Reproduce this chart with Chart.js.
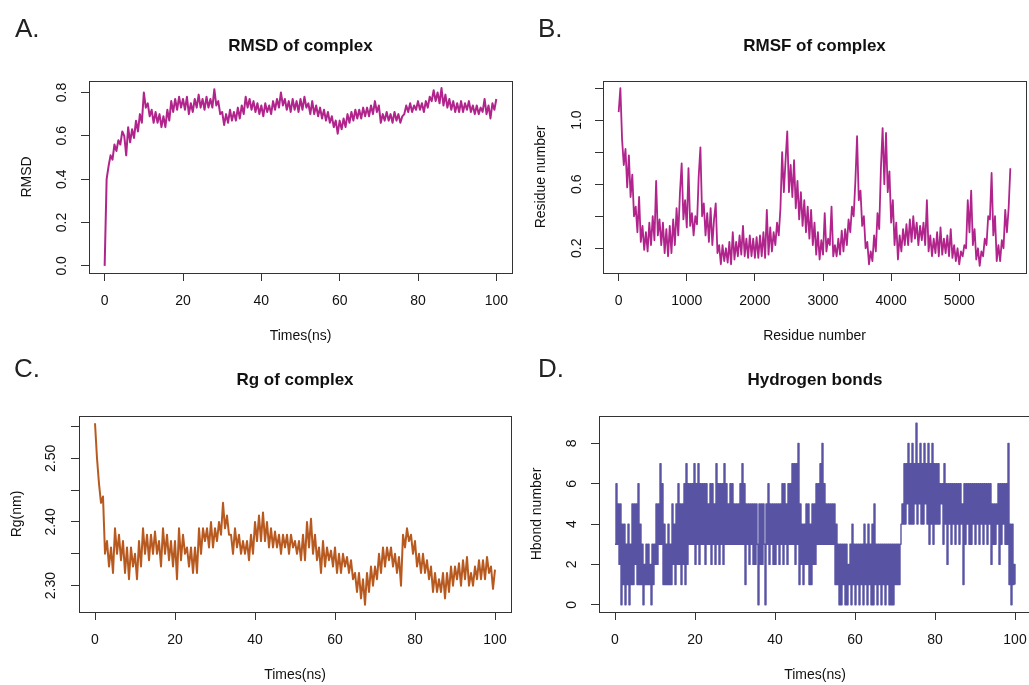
<!DOCTYPE html>
<html><head><meta charset="utf-8">
<script src="https://cdn.jsdelivr.net/npm/chart.js@4.4.1/dist/chart.umd.min.js"></script>
<style>
html,body{margin:0;padding:0;background:#fff;overflow:hidden;width:1029px;height:685px;}
canvas{position:absolute;left:0;top:0;}
.lab{position:absolute;font:26px "Liberation Sans",Arial,sans-serif;line-height:26px;color:#222;}
.ttl{position:absolute;font:bold 17px "Liberation Sans",Arial,sans-serif;line-height:17px;text-align:center;color:#111;}
</style></head><body>
<canvas id="cA" width="1040" height="685"></canvas>
<canvas id="cB" width="1040" height="685"></canvas>
<canvas id="cC" width="1040" height="685"></canvas>
<canvas id="cD" width="1040" height="685"></canvas>
<div class="lab" style="left:15px;top:15px">A.</div>
<div class="lab" style="left:538px;top:15px">B.</div>
<div class="lab" style="left:14px;top:355px">C.</div>
<div class="lab" style="left:538px;top:355px">D.</div>
<div class="ttl" style="left:89px;width:423px;top:37px">RMSD of complex</div>
<div class="ttl" style="left:603px;width:423px;top:37px">RMSF of complex</div>
<div class="ttl" style="left:79px;width:432px;top:371px">Rg of complex</div>
<div class="ttl" style="left:599px;width:432px;top:371px">Hydrogen bonds</div>
<script>
// RMSD, one value every 0.5 ns (0..100)
const rmsd = [0,0.40,0.46,0.51,0.49,0.56,0.53,0.58,0.56,0.62,
  0.60,0.51,0.64,0.57,0.63,0.59,0.67,0.62,0.70,0.66,
  0.80,0.73,0.75,0.69,0.72,0.66,0.71,0.66,0.70,0.64,
  0.69,0.64,0.72,0.67,0.76,0.71,0.77,0.72,0.78,0.73,
  0.77,0.72,0.78,0.70,0.75,0.71,0.77,0.73,0.79,0.73,
  0.77,0.72,0.78,0.73,0.77,0.73,0.815,0.74,0.76,0.70,
  0.71,0.65,0.70,0.66,0.72,0.67,0.71,0.67,0.73,0.68,
  0.74,0.70,0.78,0.73,0.77,0.72,0.76,0.71,0.75,0.70,
  0.74,0.69,0.75,0.71,0.74,0.70,0.76,0.72,0.77,0.73,
  0.80,0.74,0.77,0.72,0.76,0.71,0.77,0.72,0.76,0.71,
  0.77,0.72,0.78,0.73,0.75,0.70,0.76,0.70,0.74,0.69,
  0.73,0.68,0.72,0.67,0.71,0.66,0.69,0.64,0.67,0.61,
  0.67,0.63,0.68,0.64,0.70,0.66,0.71,0.67,0.72,0.68,
  0.72,0.68,0.73,0.69,0.73,0.69,0.74,0.70,0.76,0.71,
  0.74,0.66,0.70,0.67,0.71,0.67,0.70,0.66,0.71,0.67,
  0.70,0.66,0.69,0.70,0.74,0.71,0.75,0.71,0.74,0.72,
  0.76,0.72,0.75,0.71,0.76,0.73,0.78,0.76,0.81,0.76,
  0.80,0.75,0.82,0.74,0.79,0.73,0.77,0.72,0.76,0.71,
  0.75,0.71,0.76,0.71,0.75,0.72,0.76,0.71,0.74,0.70,
  0.74,0.70,0.73,0.71,0.77,0.70,0.74,0.68,0.75,0.72,
  0.77];
// RMSF, one value every 25 residues (0..5750)
const rmsf = [1.05,1.20,0.88,0.72,0.82,0.58,0.78,0.52,0.66,0.40,0.46,0.30,0.52,0.24,0.34,0.19,0.30,0.18,0.36,0.22,
  0.40,0.25,0.62,0.28,0.38,0.22,0.36,0.17,0.32,0.15,0.34,0.17,0.38,0.22,0.45,0.28,0.55,0.73,0.38,0.50,
  0.33,0.70,0.34,0.42,0.28,0.40,0.35,0.65,0.83,0.40,0.48,0.28,0.42,0.24,0.45,0.22,0.38,0.48,0.17,0.22,
  0.10,0.22,0.12,0.20,0.11,0.24,0.10,0.30,0.13,0.24,0.15,0.28,0.16,0.34,0.15,0.26,0.14,0.28,0.15,0.26,
  0.14,0.27,0.14,0.28,0.15,0.30,0.14,0.44,0.16,0.33,0.18,0.30,0.22,0.36,0.28,0.45,0.80,0.55,0.75,0.93,
  0.55,0.72,0.52,0.75,0.45,0.62,0.38,0.55,0.34,0.50,0.30,0.46,0.26,0.44,0.22,0.36,0.16,0.30,0.13,0.25,
  0.16,0.42,0.18,0.26,0.22,0.46,0.15,0.22,0.15,0.26,0.16,0.31,0.18,0.32,0.22,0.38,0.30,0.46,0.40,0.62,
  0.90,0.50,0.56,0.34,0.40,0.20,0.24,0.10,0.18,0.12,0.28,0.18,0.42,0.32,0.70,0.95,0.60,0.92,0.55,0.68,
  0.36,0.50,0.22,0.36,0.13,0.28,0.18,0.32,0.22,0.35,0.22,0.38,0.24,0.40,0.26,0.36,0.22,0.34,0.25,0.36,
  0.22,0.50,0.18,0.28,0.15,0.26,0.17,0.30,0.15,0.33,0.16,0.26,0.17,0.28,0.15,0.32,0.14,0.22,0.12,0.20,
  0.10,0.18,0.15,0.22,0.20,0.50,0.30,0.56,0.22,0.32,0.13,0.20,0.09,0.18,0.15,0.26,0.22,0.40,0.38,0.67,
  0.28,0.40,0.12,0.22,0.12,0.25,0.20,0.44,0.30,0.45,0.70];
// Rg, one value every 0.5 ns
const rg = [2.555,2.50,2.46,2.43,2.44,2.35,2.37,2.33,2.36,2.32,
  2.39,2.35,2.38,2.34,2.37,2.32,2.36,2.31,2.36,2.33,
  2.35,2.31,2.37,2.33,2.39,2.35,2.38,2.34,2.38,2.35,
  2.385,2.35,2.37,2.33,2.39,2.35,2.38,2.34,2.37,2.33,
  2.37,2.31,2.39,2.34,2.38,2.35,2.36,2.33,2.36,2.32,
  2.36,2.32,2.39,2.35,2.39,2.37,2.39,2.36,2.40,2.36,
  2.39,2.37,2.40,2.38,2.43,2.39,2.41,2.38,2.38,2.35,
  2.39,2.36,2.38,2.35,2.37,2.35,2.37,2.34,2.38,2.35,
  2.40,2.37,2.41,2.37,2.415,2.37,2.40,2.36,2.39,2.36,
  2.385,2.36,2.38,2.35,2.38,2.36,2.38,2.35,2.38,2.36,
  2.37,2.35,2.37,2.34,2.38,2.34,2.40,2.36,2.405,2.35,
  2.38,2.34,2.36,2.32,2.37,2.33,2.36,2.34,2.355,2.33,
  2.36,2.32,2.35,2.32,2.35,2.33,2.345,2.32,2.34,2.31,
  2.32,2.29,2.32,2.28,2.31,2.27,2.32,2.29,2.33,2.30,
  2.33,2.31,2.35,2.32,2.36,2.33,2.36,2.34,2.36,2.33,
  2.35,2.32,2.345,2.30,2.38,2.36,2.39,2.37,2.38,2.35,
  2.37,2.33,2.35,2.32,2.35,2.32,2.34,2.31,2.33,2.29,
  2.32,2.29,2.31,2.29,2.32,2.28,2.32,2.29,2.33,2.30,
  2.33,2.31,2.335,2.30,2.34,2.31,2.345,2.30,2.32,2.30,
  2.33,2.31,2.34,2.31,2.34,2.31,2.345,2.32,2.33,2.295,
  2.325];
// hydrogen bond count, one value every 0.25 ns
const hbond = [3,6,3,5,2,5,0,4,1,4,0,3,1,4,0,3,1,5,1,5,
  2,5,1,6,1,4,1,3,0,2,1,3,1,3,1,2,0,3,1,3,
  2,5,2,5,3,7,3,6,1,4,1,3,1,4,1,3,1,5,2,4,
  1,5,2,6,2,5,1,5,2,6,1,7,2,6,3,6,3,6,3,7,
  2,6,3,7,2,6,3,6,3,6,2,6,3,5,3,6,2,6,3,5,
  2,7,3,6,2,6,3,6,2,7,3,6,3,5,3,6,3,6,3,5,
  3,5,3,5,3,6,3,7,3,6,1,5,3,5,2,5,3,5,2,5,
  2,5,3,0,5,2,5,2,5,3,0,5,3,6,2,5,3,5,2,5,
  2,5,3,5,2,5,3,6,2,6,3,5,2,6,3,6,3,7,3,7,
  2,7,3,8,1,5,2,4,1,4,2,5,2,5,1,4,1,5,2,5,
  2,6,3,6,3,7,3,8,3,6,3,5,3,5,3,5,3,5,3,5,
  1,4,1,3,0,3,0,3,1,3,0,3,0,2,1,3,0,4,1,3,
  0,3,1,3,0,3,1,3,0,4,1,3,0,4,1,3,0,4,0,5,
  1,3,0,3,1,3,0,3,1,3,0,3,1,3,0,3,0,3,0,3,
  1,3,1,3,1,3,4,5,4,7,4,7,5,8,4,7,4,8,4,7,
  5,9,4,7,5,8,4,7,4,8,5,7,4,8,3,7,4,8,3,7,
  4,7,4,7,4,6,5,6,3,7,4,6,2,6,4,6,3,6,4,6,
  3,6,4,6,3,6,4,5,1,6,3,6,4,6,3,6,3,6,4,6,
  3,6,4,6,3,6,4,6,3,6,4,6,3,6,4,6,2,5,3,5,
  3,5,4,6,2,6,3,6,4,6,3,6,3,8,1,4,0,4,1,2,
  1];

const timeTicks = [0,20,40,60,80,100];
const resTicks  = [0,1000,2000,3000,4000,5000];
const rmsdTicks = [0,0.2,0.4,0.6,0.8];
const rmsfTicks = [0.2,0.4,0.6,0.8,1.0,1.2];
const rmsfShown = [0.2,0.6,1.0];
const rgTicks   = [2.30,2.35,2.40,2.45,2.50,2.55];
const rgShown   = [2.30,2.40,2.50];
const hbTicks   = [0,2,4,6,8];

const FONT = {family:'"Liberation Sans", Arial, sans-serif', size:14};
const INK = '#111';

// box round the plot region, like R's box()
const frame = {id:'frame', afterDatasetsDraw(c){
  const a=c.chartArea, x=c.ctx;
  x.save(); x.strokeStyle='#333'; x.lineWidth=1;
  x.strokeRect(Math.round(a.left)+.5, Math.round(a.top)+.5, Math.round(a.right-a.left), Math.round(a.bottom-a.top));
  x.restore();
}};

function panel(id, o) {
  const grid = {drawOnChartArea:false, drawTicks:true, tickLength:8, color:'#333', lineWidth:1};
  return new Chart(document.getElementById(id), {
    type:'line',
    data:{datasets:[{data:o.vals.map((v,i)=>({x:i*o.step, y:v})), borderColor:o.color, borderWidth:o.lw,
      pointRadius:0, tension:0, stepped:!!o.stepped, borderJoinStyle:'round'}]},
    options:{
      responsive:false, animation:false, events:[], parsing:false,
      layout:{padding:o.pad},
      plugins:{legend:{display:false}, tooltip:{enabled:false}},
      scales:{
        x:{type:'linear', min:o.xr[0], max:o.xr[1], grid, border:{display:false},
          afterBuildTicks:s=>{s.ticks=o.xt.map(v=>({value:v}))},
          afterFit:s=>{s.height=72},
          ticks:{font:FONT, color:INK, padding:11.6, maxRotation:0, autoSkip:false, callback:v=>String(v)},
          title:{display:true, text:o.xl, font:FONT, color:INK, padding:{top:0, bottom:0.6}}},
        y:{type:'linear', min:o.yr[0], max:o.yr[1], grid, border:{display:false},
          afterBuildTicks:s=>{s.ticks=o.yt.map(v=>({value:v}))},
          afterFit:s=>{s.width=75},
          ticks:{font:FONT, color:INK, padding:o.yp, minRotation:90, maxRotation:90, crossAlign:'center', autoSkip:false,
            callback:v=>o.ys.includes(v) ? v.toFixed(o.dec) : ''},
          title:{display:true, text:o.yl, font:FONT, color:INK, padding:{top:5.1, bottom:0}}}
      }
    },
    plugins:[frame]
  });
}

panel('cA', {vals:rmsd, step:0.5, color:'#B0248C', lw:2, pad:{left:14,top:81,right:528,bottom:340},
  xr:[-4,104], yr:[-0.0328,0.8528], xt:timeTicks, yt:rmsdTicks, ys:rmsdTicks, dec:1, yp:8.8,
  xl:'Times(ns)', yl:'RMSD'});
panel('cB', {vals:rmsf, step:25, color:'#B0248C', lw:1.8, pad:{left:528,top:81,right:14,bottom:340},
  xr:[-230,5980], yr:[0.0456,1.2444], xt:resTicks, yt:rmsfTicks, ys:rmsfShown, dec:1, yp:7.8,
  xl:'Residue number', yl:'Residue number'});
panel('cC', {vals:rg, step:0.5, color:'#B85A1F', lw:2, pad:{left:4,top:416,right:529,bottom:1},
  xr:[-4,104], yr:[2.2586,2.5664], xt:timeTicks, yt:rgTicks, ys:rgShown, dec:2, yp:5.9,
  xl:'Times(ns)', yl:'Rg(nm)'});
panel('cD', {vals:hbond, step:0.25, color:'#5953A4', lw:1.4, stepped:true, pad:{left:524,top:416,right:9,bottom:1},
  xr:[-4,104], yr:[-0.36,9.36], xt:timeTicks, yt:hbTicks, ys:hbTicks, dec:0, yp:14.6,
  xl:'Times(ns)', yl:'Hbond number'});
</script>
</body></html>
